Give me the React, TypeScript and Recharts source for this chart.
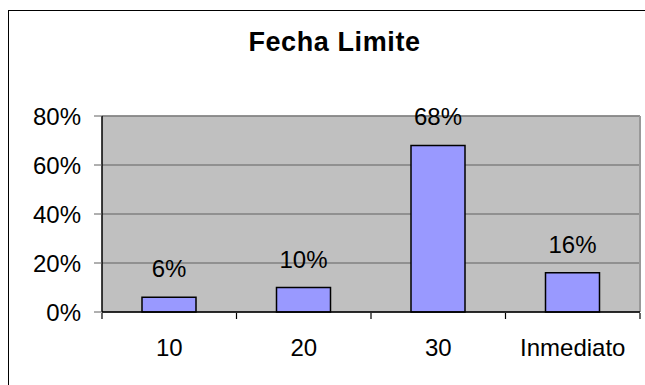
import React from "react";
import {
  Bar,
  BarChart,
  CartesianGrid,
  LabelList,
  ReferenceLine,
  XAxis,
  YAxis,
} from "recharts";

const categories = ["10", "20", "30", "Inmediato"];
const percentages = [6, 10, 68, 16];
const yTicks = [0, 20, 40, 60, 80];
// category boundaries, where the x axis draws its tick marks
const edgeTicks = [0, 1, 2, 3, 4];

const data = categories.map((name, i) => ({ name, slot: i, pct: percentages[i] }));

const FONT = '"Liberation Sans", Arial, sans-serif';
const pct = (v: number) => `${v}%`;

export default function App() {
  return (
    <div style={{ position: "relative", width: 645, height: 385, overflow: "hidden", fontFamily: FONT }}>
      <style>{"body{margin:0;overflow:hidden}"}</style>
      <div
        style={{
          position: "absolute",
          left: 8,
          top: 10,
          width: 653,
          height: 420,
          border: "1px solid #000",
          boxSizing: "border-box",
        }}
      />
      <div
        style={{
          position: "absolute",
          left: 8,
          top: 29,
          width: 653,
          textAlign: "center",
          fontSize: 27,
          lineHeight: "27px",
          fontWeight: "bold",
          letterSpacing: 0.6,
          color: "#000",
        }}
      >
        Fecha Limite
      </div>
      <div style={{ position: "absolute", left: 0, top: 0 }}>
        <BarChart
          width={645}
          height={385}
          data={data}
          margin={{ top: 116, right: 5, bottom: 0, left: 0 }}
        >
          <CartesianGrid vertical={false} fill="#C0C0C0" stroke="#606060" />
          {/* thin axis so the boundary-tick axis below lands right under it */}
          <XAxis
            dataKey="name"
            height={1}
            axisLine={{ stroke: "#000", strokeWidth: 1.5 }}
            tickLine={false}
            tickSize={6}
            tickMargin={21}
            tick={{ fill: "#000", fontSize: 24 }}
          />
          <XAxis
            xAxisId="edges"
            dataKey="slot"
            type="number"
            domain={[0, 4]}
            allowDataOverflow
            ticks={edgeTicks}
            interval={0}
            height={72}
            axisLine={false}
            tick={{ fontSize: 1 }}
            tickFormatter={() => ""}
            tickSize={6}
            tickLine={{ stroke: "#000", strokeWidth: 1.2 }}
          />
          <YAxis
            width={102}
            domain={[0, 80]}
            ticks={yTicks}
            tickFormatter={pct}
            axisLine={{ stroke: "#000", strokeWidth: 1.5 }}
            tickLine={{ stroke: "#606060" }}
            tickSize={8}
            tickMargin={13}
            tick={{ fill: "#000", fontSize: 24 }}
          />
          <ReferenceLine y={80} stroke="#888" strokeWidth={1.5} />
          <ReferenceLine xAxisId="edges" x={4} stroke="#999" strokeWidth={2} />
          <Bar
            dataKey="pct"
            barSize={54}
            fill="#9999FF"
            stroke="#000"
            strokeWidth={1.5}
            isAnimationActive={false}
          >
            <LabelList dataKey="pct" position="top" offset={20} formatter={pct} fill="#000" fontSize={24} />
          </Bar>
        </BarChart>
      </div>
    </div>
  );
}
